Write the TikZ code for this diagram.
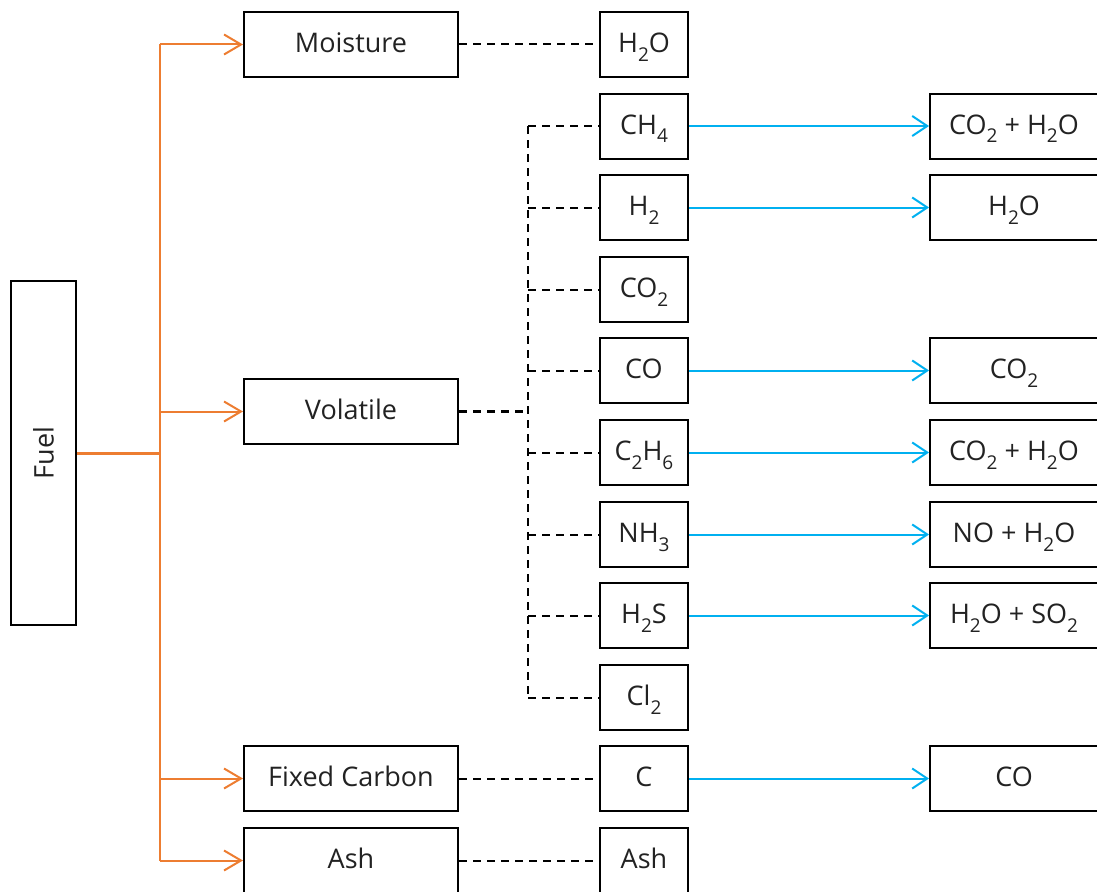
\documentclass[tikz,border=0pt]{standalone}
\usepackage{fontspec}
\setmainfont{Open Sans}
\usetikzlibrary{arrows.meta}
\definecolor{fuelorange}{HTML}{ED7D31}
\definecolor{reactblue}{HTML}{00B0F0}
\definecolor{txt}{HTML}{222222}
\newcommand\sbs[1]{\raisebox{-0.32em}{\fontsize{19}{19}\selectfont #1}}
\tikzset{
  box/.style={draw=black, line width=2pt, inner sep=0pt, text=txt,
    font=\fontsize{27}{30}\selectfont, text height=16pt, text depth=0pt},
  widebox/.style={box, minimum width=214pt, minimum height=65pt},
  midbox/.style={box, minimum width=88pt, minimum height=65pt},
  rightbox/.style={box, minimum width=168pt, minimum height=65pt},
  oline/.style={draw=fuelorange, line width=2pt},
  oarrow/.style={oline, -{Straight Barb[length=17pt,width=20pt]}},
  barrow/.style={draw=reactblue, line width=2pt, -{Straight Barb[length=15pt,width=20pt]}},
  dline/.style={draw=black, line width=2pt, dash pattern=on 8pt off 6pt},
}
\begin{document}
\begin{tikzpicture}[x=1pt,y=-1pt]
\useasboundingbox (0,0) rectangle (1097,891);
% Fuel
\node[draw=black, line width=2pt, inner sep=0pt, minimum width=65pt, minimum height=344pt,
  text=txt, font=\fontsize{27}{30}\selectfont] (fuel) at (43.5,453) {\rotatebox{90}{Fuel}};
% left column
\node[widebox] (moist) at (351,44.5) {Moisture};
\node[widebox] (vol) at (351,411.5) {Volatile};
\node[widebox] (fixc) at (351,778.5) {Fixed Carbon};
\node[widebox] (ash) at (351,860.5) {Ash};
% middle column
\node[midbox] (mh2o) at (644,44.5) {H\sbs{2}O};
\node[midbox] (ch4) at (644,126) {CH\sbs{4}};
\node[midbox] (h2) at (644,207.5) {H\sbs{2}};
\node[midbox] (co2) at (644,289.5) {CO\sbs{2}};
\node[midbox] (co) at (644,370.5) {CO};
\node[midbox] (c2h6) at (644,452.5) {C\sbs{2}H\sbs{6}};
\node[midbox] (nh3) at (644,534.5) {NH\sbs{3}};
\node[midbox] (h2s) at (644,615.5) {H\sbs{2}S};
\node[midbox] (cl2) at (644,697.5) {Cl\sbs{2}};
\node[midbox] (c) at (644,778.5) {C};
\node[midbox] (mash) at (644,860.5) {Ash};
% right column
\node[rightbox] (r1) at (1014,126) {CO\sbs{2} + H\sbs{2}O};
\node[rightbox] (r2) at (1014,207.5) {H\sbs{2}O};
\node[rightbox] (r3) at (1014,370.5) {CO\sbs{2}};
\node[rightbox] (r4) at (1014,452.5) {CO\sbs{2} + H\sbs{2}O};
\node[rightbox] (r5) at (1014,534.5) {NO + H\sbs{2}O};
\node[rightbox] (r6) at (1014,615.5) {H\sbs{2}O + SO\sbs{2}};
\node[rightbox] (r7) at (1014,778.5) {CO};
% orange tree
\coordinate (trunk) at (160,453);
\draw[oline, line width=3pt] (fuel.east) -- (trunk);
\draw[oline] (trunk |- moist) -- (trunk |- ash);
\draw[oarrow] (trunk |- moist) -- (moist.west);
\draw[oarrow] (trunk |- vol) -- (vol.west);
\draw[oarrow] (trunk |- fixc) -- (fixc.west);
\draw[oarrow] (trunk |- ash) -- (ash.west);
% dashed links
\coordinate (vbus) at (528,411.5);
\draw[dline] (moist.east) -- (mh2o.west);
\draw[dline, line width=2.5pt] (vol.east) -- (vbus);
\draw[dline] (vbus |- ch4) -- (vbus |- cl2);
\foreach \n in {ch4,h2,co2,co,c2h6,nh3,h2s,cl2}
  \draw[dline] (vbus |- \n) -- (\n.west);
\draw[dline] (fixc.east) -- (c.west);
\draw[dline] (ash.east) -- (mash.west);
% blue reactions
\draw[barrow] (ch4.east) -- (r1.west);
\draw[barrow] (h2.east) -- (r2.west);
\draw[barrow] (co.east) -- (r3.west);
\draw[barrow] (c2h6.east) -- (r4.west);
\draw[barrow] (nh3.east) -- (r5.west);
\draw[barrow] (h2s.east) -- (r6.west);
\draw[barrow] (c.east) -- (r7.west);
\end{tikzpicture}
\end{document}
